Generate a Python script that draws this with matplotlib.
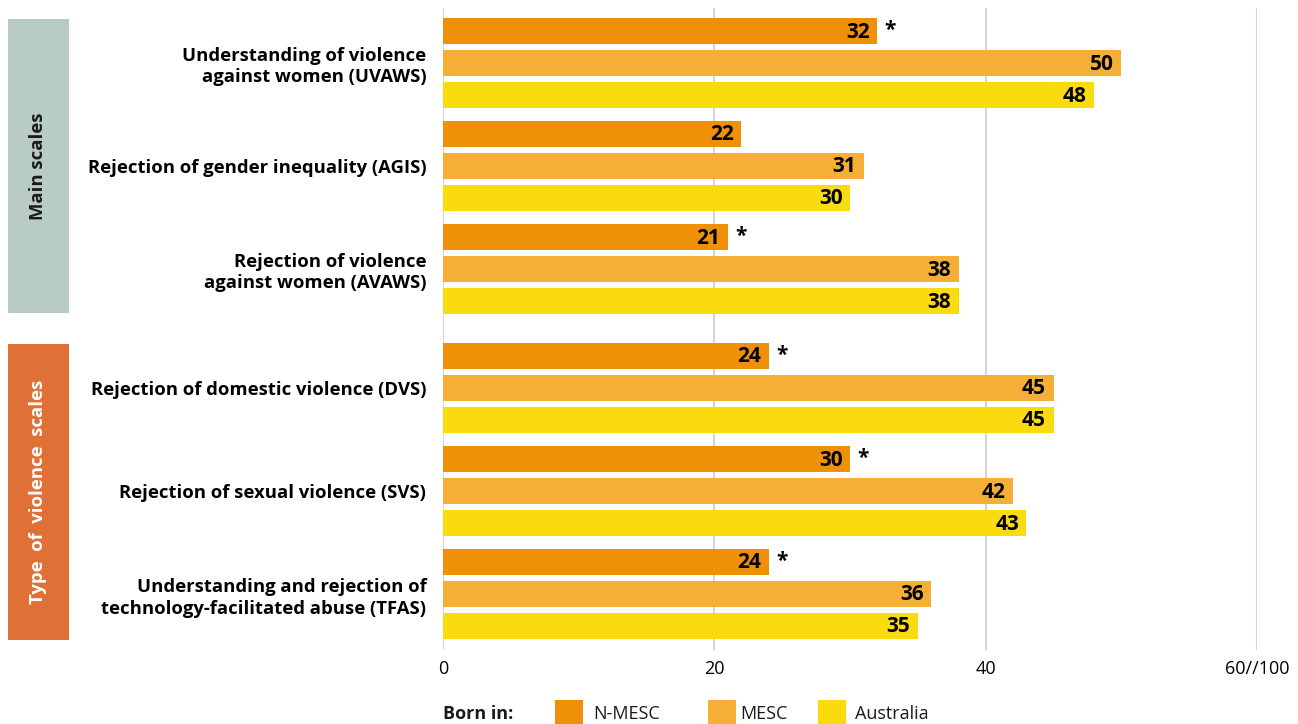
import matplotlib.pyplot as plt
from matplotlib.patches import Rectangle

plt.rcParams['font.family'] = ['Open Sans', 'DejaVu Sans']

categories = [
    "Understanding of violence\nagainst women (UVAWS)",
    "Rejection of gender inequality (AGIS)",
    "Rejection of violence\nagainst women (AVAWS)",
    "Rejection of domestic violence (DVS)",
    "Rejection of sexual violence (SVS)",
    "Understanding and rejection of\ntechnology-facilitated abuse (TFAS)",
]
series_names = ["N-MESC", "MESC", "Australia"]
n_mesc = [32, 22, 21, 24, 30, 24]
mesc = [50, 31, 38, 45, 42, 36]
australia = [48, 30, 38, 45, 43, 35]
significant = [True, False, True, True, True, True]
sections = ["Main scales", "Type  of  violence  scales"]
xticks = [0, 20, 40, 60]
xticklabels = ["0", "20", "40", "60//100"]

colors = ["#ee9109", "#f5af36", "#fadb0e"]

W, H = 1298, 724
fig = plt.figure(figsize=(W / 100, H / 100), dpi=100)
ax = fig.add_axes([443 / W, 1 - 650 / H, (1257 - 443) / W, (650 - 8) / H])

# group centres, with an extra gap between the two sections
group_pitch = 103
section_gap = 16
centres = []
for i in range(len(categories)):
    c = 63 + i * group_pitch + (section_gap if i >= 3 else 0)
    centres.append(c)

bar_pitch = 32
bar_h = 26
for j, (vals, col) in enumerate(zip([n_mesc, mesc, australia], colors)):
    ys = [c + (j - 1) * bar_pitch for c in centres]
    ax.barh(ys, vals, height=bar_h, color=col, zorder=3)
    for y, v, i in zip(ys, vals, range(len(vals))):
        ax.text(v - 0.55, y + 1, str(v), ha='right', va='center',
                fontsize=15, fontweight='bold', color='black', zorder=4)
        if j == 0 and significant[i]:
            ax.text(v + 0.55, y - 1, "*", ha='left', va='center',
                    fontsize=15, fontweight='bold', color='black', zorder=4)

ax.set_ylim(650, 8)
ax.set_xlim(0, 60)
ax.set_yticks(centres)
ax.set_yticklabels(categories, fontsize=13.3, fontweight='bold', linespacing=1.25)
ax.set_xticks(xticks)
ax.set_xticklabels(xticklabels, fontsize=13)
ax.tick_params(axis='both', length=0)
ax.tick_params(axis='y', pad=12)
ax.tick_params(axis='x', pad=7)
for s in ax.spines.values():
    s.set_visible(False)
ax.grid(axis='x', color='#d5d5d5', linewidth=1.5, zorder=0)

# coloured section boxes on the left
boxes = [(19, 313, "#b9cbc5", "#1a1a1a"), (344, 640, "#e07035", "white")]
for (top, bottom, fc, tc), name in zip(boxes, sections):
    fig.patches.append(Rectangle((8 / W, 1 - bottom / H), 61 / W, (bottom - top) / H,
                                 transform=fig.transFigure, facecolor=fc,
                                 edgecolor='none'))
    fig.text(38 / W, 1 - (top + bottom) / 2 / H, name, rotation=90,
             ha='center', va='center', fontsize=13.3, fontweight='bold', color=tc)

# legend row
ly = 1 - 714 / H
fig.text(443 / W, ly, "Born in:", ha='left', va='center', fontsize=13,
         fontweight='bold', color='#1a1a1a')
for name, col, px, tx in zip(series_names, colors, [555, 708, 818], [593, 740, 855]):
    fig.patches.append(Rectangle((px / W, 0), 28 / W, 24 / H,
                                 transform=fig.transFigure, facecolor=col,
                                 edgecolor='none'))
    fig.text(tx / W, ly, name, ha='left', va='center', fontsize=13, color='#1a1a1a')

fig.savefig("out.png", dpi=100)
